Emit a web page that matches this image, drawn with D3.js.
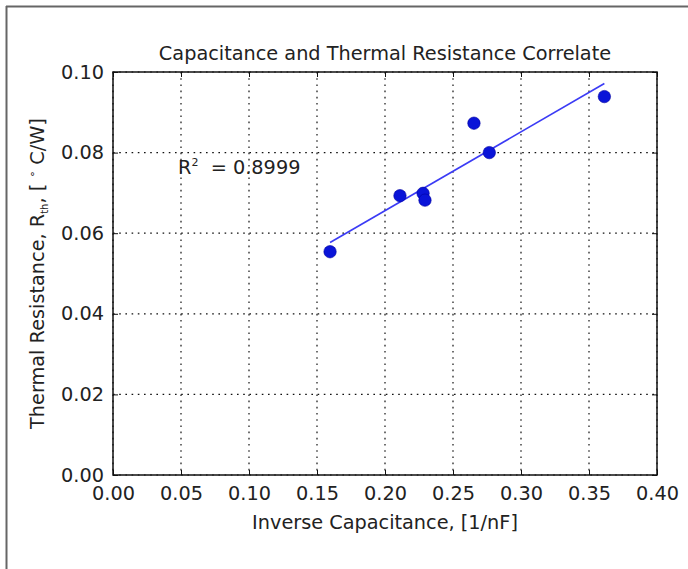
<!DOCTYPE html>
<html>
<head>
<meta charset="utf-8">
<script src="https://cdn.jsdelivr.net/npm/d3@7"></script>
<style>
  html, body { margin: 0; padding: 0; background: #fff; }
  svg { display: block; }
  text { font-family: "DejaVu Sans", sans-serif; fill: #222; }
</style>
</head>
<body>
<div id="chart"></div>
<script>
// ---- data ----
const invCapacitance = [0.1596, 0.211, 0.228, 0.2294, 0.2654, 0.2767, 0.3613];
const thermalResistance = [0.0554, 0.0693, 0.0699, 0.0682, 0.0873, 0.0800, 0.0939];
const xTicks = [0.00, 0.05, 0.10, 0.15, 0.20, 0.25, 0.30, 0.35, 0.40];
const yTicks = [0.00, 0.02, 0.04, 0.06, 0.08, 0.10];
const rSquaredLabel = "0.8999";
const title = "Capacitance and Thermal Resistance Correlate";
const xLabel = "Inverse Capacitance, [1/nF]";

const W = 688, H = 569;
const FS = 19.3;
const margin = { left: 113, top: 72, right: 688 - 657, bottom: 569 - 475 };
const iw = W - margin.left - margin.right;
const ih = H - margin.top - margin.bottom;

const svg = d3.select("#chart").append("svg").attr("width", W).attr("height", H);

// outer frame (top & left only, as in screenshot)
svg.append("line").attr("x1", 6).attr("y1", 6.5).attr("x2", W).attr("y2", 6.5)
  .attr("stroke", "#666").attr("stroke-width", 2);
svg.append("line").attr("x1", 6.5).attr("y1", 6).attr("x2", 6.5).attr("y2", H)
  .attr("stroke", "#666").attr("stroke-width", 2);

const x = d3.scaleLinear().domain([0, 0.4]).range([0, iw]);
const y = d3.scaleLinear().domain([0, 0.1]).range([ih, 0]);

const g = svg.append("g").attr("transform", `translate(${margin.left},${margin.top})`);

// grid
const grid = g.append("g").attr("stroke", "#111").attr("stroke-width", 1.2)
  .attr("stroke-dasharray", "1.6,4.6");
grid.selectAll(".gx").data(xTicks).join("line")
  .attr("x1", d => x(d)).attr("x2", d => x(d)).attr("y1", 0).attr("y2", ih);
grid.selectAll(".gy").data(yTicks).join("line")
  .attr("y1", d => y(d)).attr("y2", d => y(d)).attr("x1", 0).attr("x2", iw);

// axes with inward ticks
const fmt = d3.format(".2f");
const axB = g.append("g").attr("transform", `translate(0,${ih})`)
  .call(d3.axisBottom(x).tickValues(xTicks).tickFormat(fmt).tickSizeInner(-5).tickSizeOuter(0).tickPadding(11));
const axT = g.append("g")
  .call(d3.axisTop(x).tickValues(xTicks).tickFormat("").tickSizeInner(-5).tickSizeOuter(0));
const axL = g.append("g")
  .call(d3.axisLeft(y).tickValues(yTicks).tickFormat(fmt).tickSizeInner(-5).tickSizeOuter(0).tickPadding(9));
const axR = g.append("g").attr("transform", `translate(${iw},0)`)
  .call(d3.axisRight(y).tickValues(yTicks).tickFormat("").tickSizeInner(-5).tickSizeOuter(0));
[axB, axT, axL, axR].forEach(a => {
  a.select(".domain").remove();
  a.selectAll(".tick line").attr("stroke", "#111").attr("stroke-width", 1);
  a.selectAll("text").attr("font-size", FS).attr("fill", "#222")
    .style("font-family", "DejaVu Sans, sans-serif");
});
axB.selectAll("text").attr("dy", "0.71em");

// frame
g.append("rect").attr("x", 0).attr("y", 0).attr("width", iw).attr("height", ih)
  .attr("fill", "none").attr("stroke", "#111").attr("stroke-width", 1.5);

// least squares fit line from data
const n = invCapacitance.length;
const mx = d3.mean(invCapacitance), my = d3.mean(thermalResistance);
let sxy = 0, sxx = 0;
for (let i = 0; i < n; i++) {
  sxy += (invCapacitance[i] - mx) * (thermalResistance[i] - my);
  sxx += (invCapacitance[i] - mx) ** 2;
}
const slope = sxy / sxx, intercept = my - slope * mx;
const [x0, x1] = d3.extent(invCapacitance);
g.append("line")
  .attr("x1", x(x0)).attr("y1", y(intercept + slope * x0))
  .attr("x2", x(x1)).attr("y2", y(intercept + slope * x1))
  .attr("stroke", "#3b3bf5").attr("stroke-width", 1.6);

// points
g.selectAll("circle.pt").data(invCapacitance.map((v, i) => [v, thermalResistance[i]])).join("circle")
  .attr("class", "pt")
  .attr("cx", d => x(d[0])).attr("cy", d => y(d[1])).attr("r", 6.2)
  .attr("fill", "#0a14d8").attr("stroke", "#0000a0").attr("stroke-width", 0.6);

// R^2 annotation
const rt = svg.append("text").attr("x", 178).attr("y", 174).attr("font-size", FS)
  .attr("xml:space", "preserve");
rt.append("tspan").text("R");
rt.append("tspan").attr("font-size", 11).attr("dy", -8).text("2");
rt.append("tspan").attr("dy", 8).text("  = " + rSquaredLabel);

// title
svg.append("text").attr("x", margin.left + iw / 2).attr("y", 60)
  .attr("text-anchor", "middle").attr("font-size", FS).text(title);

// x label
svg.append("text").attr("x", margin.left + iw / 2).attr("y", 529)
  .attr("text-anchor", "middle").attr("font-size", FS).text(xLabel);

// y label
const yl = svg.append("text").attr("transform", `translate(44,${margin.top + ih / 2}) rotate(-90)`)
  .attr("text-anchor", "middle").attr("font-size", FS).attr("xml:space", "preserve");
yl.append("tspan").text("Thermal Resistance, R");
yl.append("tspan").attr("font-size", 10).attr("dy", 4).text("th");
yl.append("tspan").attr("dy", -4).text(", [ ");
yl.append("tspan").attr("font-size", 11).attr("dy", -8).text("∘");
yl.append("tspan").attr("dy", 8).text(" C/W]");
</script>
</body>
</html>
